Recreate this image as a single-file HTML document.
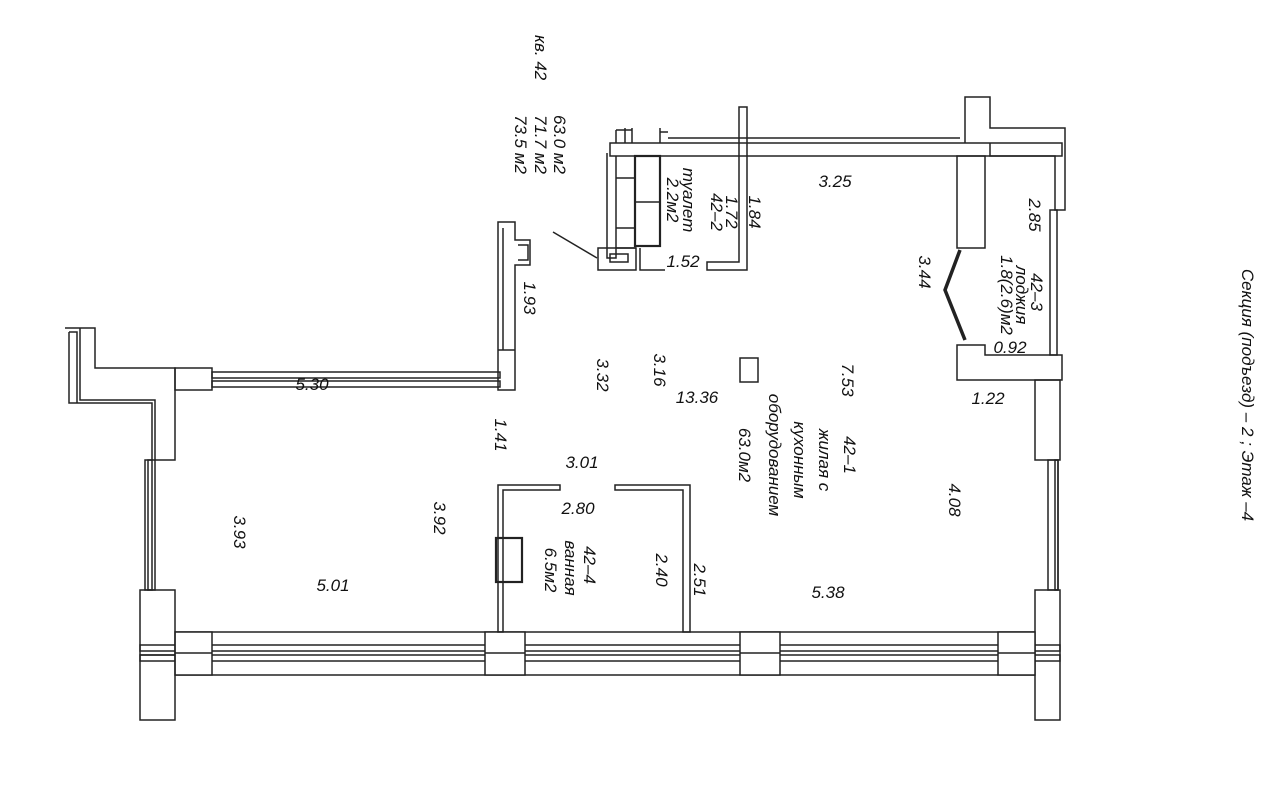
<!DOCTYPE html>
<html><head><meta charset="utf-8"><style>
html,body{margin:0;padding:0;background:#fff;}
svg{display:block}
text{font-family:"Liberation Sans","DejaVu Sans",sans-serif;font-style:italic;fill:#111;font-size:17px;}
</style></head><body>
<svg width="1280" height="805" viewBox="0 0 1280 805" xmlns="http://www.w3.org/2000/svg">
<g fill="none" stroke="#222" stroke-width="1.5">
<rect x="610" y="143" width="452" height="13" fill="#fff"/>
<path d="M616 130 V143 M616 130 H632 M625 128 V143 M632 128 V143 M660 128 V143 M660 132 H668 M668 138 H960"/>
<path d="M965 143 V97 H990 V128 H1065 V210 H1055 V156 H990 V143"/>
<rect x="957" y="156" width="28" height="92"/>
<rect x="1050" y="210" width="7" height="145"/>
<path d="M957 345 H985 V355 H1062 V380 H957 Z M985 345 V355"/>
<path d="M960 250 L945 290 L965 340" stroke-width="3.5"/>
<rect x="1035" y="380" width="25" height="80"/>
<rect x="1048" y="460" width="10" height="130"/>
<rect x="1055" y="460" width="3" height="130"/>
<rect x="1035" y="590" width="25" height="130"/>
<rect x="140" y="645" width="920" height="6"/>
<rect x="140" y="655" width="920" height="6"/>
<path d="M175 632 H1035 M175 675 H1035"/>
<rect x="175" y="632" width="37" height="43" fill="#fff"/>
<rect x="485" y="632" width="40" height="43" fill="#fff"/>
<rect x="740" y="632" width="40" height="43" fill="#fff"/>
<rect x="998" y="632" width="37" height="43" fill="#fff"/>
<path d="M175 653 H212 M485 653 H525 M740 653 H780 M998 653 H1035" />
<rect x="145" y="460" width="10" height="130"/>
<rect x="148" y="460" width="4" height="130"/>
<rect x="140" y="590" width="35" height="130"/>
<path d="M140 655 H175"/>
<path d="M65 328 H80 V400 H155 V460 H175 V368 H95 V328 Z"/>
<path d="M69 332 H77 V403 H152 V460 M69 332 V403 H77"/>
<rect x="175" y="368" width="37" height="22"/>
<rect x="212" y="372" width="288" height="6"/>
<rect x="212" y="381" width="288" height="6"/>
<path d="M498 222 H515 V240 H530 V265 H515 V390 H498 Z"/>
<path d="M503 228 V350 M498 350 H515 M518 245 H528 V260 H518"/>
<path d="M607 153 V258 H616 V248 H636"/>
<path d="M616 156 V248"/>
<rect x="635" y="156" width="25" height="90" stroke-width="2.2"/>
<path d="M635 202 H660 M616 178 H635 M616 228 H635"/>
<path d="M598 248 H636 V270 H598 Z M610 254 H628 V262 H610 Z"/>
<path d="M640 248 V270 H665"/>
<path d="M739 107 H747 V270 H707 V262 H739 Z"/>
<path d="M553 232 L597 258" />
<path d="M560 485 H498 V632 H503 V490 H560 Z"/>
<path d="M615 485 H690 V632 H683 V490 H615 Z"/>
<rect x="496" y="538" width="26" height="44" stroke-width="2.2"/>
<rect x="740" y="358" width="18" height="24"/>
</g>
<g>
<text transform="translate(1242,395) rotate(90)" text-anchor="middle" font-size="22">Секция (подъезд) – 2 ;  Этаж –4</text>
<text transform="translate(554,115) rotate(90)">63.0 м2</text>
<text transform="translate(535,35) rotate(90)">кв. 42</text>
<text transform="translate(535,115) rotate(90)">71.7 м2</text>
<text transform="translate(515,115) rotate(90)">73.5 м2</text>

<text x="835" y="187" text-anchor="middle">3.25</text>
<text transform="translate(1029,215) rotate(90)" text-anchor="middle" font-size="14">2.85</text>
<text transform="translate(749,212) rotate(90)" text-anchor="middle">1.84</text>
<text transform="translate(726,212) rotate(90)" text-anchor="middle" font-size="13">1.72</text>
<text transform="translate(711,212) rotate(90)" text-anchor="middle" font-size="13">42–2</text>
<text transform="translate(683,200) rotate(90)" text-anchor="middle" font-size="13">туалет</text>
<text transform="translate(667,200) rotate(90)" text-anchor="middle" font-size="13">2.2м2</text>
<text x="683" y="267" text-anchor="middle" font-size="13">1.52</text>
<text transform="translate(919,272) rotate(90)" text-anchor="middle">3.44</text>
<text transform="translate(1031,292) rotate(90)" text-anchor="middle" font-size="13">42–3</text>
<text transform="translate(1016,295) rotate(90)" text-anchor="middle" font-size="13">лоджия</text>
<text transform="translate(1001,295) rotate(90)" text-anchor="middle" font-size="12">1.8(2.6)м2</text>
<text x="1010" y="353" text-anchor="middle" font-size="13">0.92</text>
<text transform="translate(842,380) rotate(90)" text-anchor="middle">7.53</text>
<text x="988" y="404" text-anchor="middle">1.22</text>
<text transform="translate(949,500) rotate(90)" text-anchor="middle">4.08</text>
<text transform="translate(844,455) rotate(90)" text-anchor="middle">42–1</text>
<text transform="translate(819,460) rotate(90)" text-anchor="middle">жилая  с</text>
<text transform="translate(794,460) rotate(90)" text-anchor="middle">кухонным</text>
<text transform="translate(769,455) rotate(90)" text-anchor="middle">оборудованием</text>
<text transform="translate(739,455) rotate(90)" text-anchor="middle">63.0м2</text>
<text x="697" y="403" text-anchor="middle">13.36</text>
<text transform="translate(654,370) rotate(90)" text-anchor="middle">3.16</text>
<text transform="translate(597,375) rotate(90)" text-anchor="middle">3.32</text>
<text transform="translate(524,298) rotate(90)" text-anchor="middle">1.93</text>
<text x="312" y="390" text-anchor="middle">5.30</text>
<text transform="translate(495,435) rotate(90)" text-anchor="middle">1.41</text>
<text x="582" y="468" text-anchor="middle">3.01</text>
<text x="578" y="514" text-anchor="middle">2.80</text>
<text transform="translate(584,565) rotate(90)" text-anchor="middle">42–4</text>
<text transform="translate(565,568) rotate(90)" text-anchor="middle">ванная</text>
<text transform="translate(545,570) rotate(90)" text-anchor="middle">6.5м2</text>
<text transform="translate(656,570) rotate(90)" text-anchor="middle">2.40</text>
<text transform="translate(694,580) rotate(90)" text-anchor="middle">2.51</text>
<text x="828" y="598" text-anchor="middle">5.38</text>
<text transform="translate(234,532) rotate(90)" text-anchor="middle">3.93</text>
<text transform="translate(434,518) rotate(90)" text-anchor="middle">3.92</text>
<text x="333" y="591" text-anchor="middle">5.01</text>
</g>
</svg>
</body></html>
